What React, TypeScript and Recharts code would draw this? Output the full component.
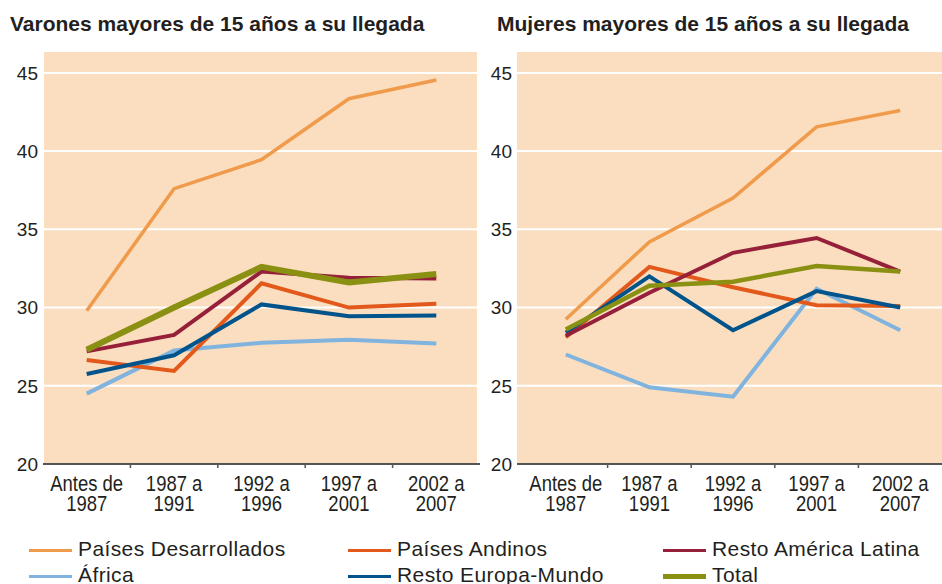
import { LineChart, Line, XAxis, YAxis, CartesianGrid } from 'recharts';

const periods = ['Antes de 1987', '1987 a 1991', '1992 a 1996', '1997 a 2001', '2002 a 2007'];
const yTicks = [20, 25, 30, 35, 40, 45];

// Varones
const varDesarrollados = [29.8, 37.6, 39.45, 43.35, 44.55];
const varAndinos = [26.65, 25.95, 31.55, 30.0, 30.25];
const varAmericaLatina = [27.2, 28.25, 32.3, 31.9, 31.85];
const varAfrica = [24.5, 27.25, 27.75, 27.95, 27.7];
const varEuropaMundo = [25.75, 26.95, 30.2, 29.45, 29.5];
const varTotal = [27.3, 30.0, 32.6, 31.6, 32.15];

// Mujeres
const mujDesarrollados = [29.25, 34.2, 37.0, 41.55, 42.6];
const mujAndinos = [28.1, 32.6, 31.3, 30.15, 30.1];
const mujAmericaLatina = [28.2, 30.95, 33.5, 34.45, 32.3];
const mujAfrica = [27.0, 24.9, 24.3, 31.2, 28.55];
const mujEuropaMundo = [28.4, 32.0, 28.55, 31.05, 30.0];
const mujTotal = [28.6, 31.4, 31.65, 32.65, 32.3];

const series = [
  { key: 'desarrollados', name: 'Países Desarrollados', color: '#F09B4B', width: 3.5 },
  { key: 'africa', name: 'África', color: '#80B3DE', width: 4 },
  { key: 'andinos', name: 'Países Andinos', color: '#E2591B', width: 4 },
  { key: 'europa', name: 'Resto Europa-Mundo', color: '#00548B', width: 4 },
  { key: 'latina', name: 'Resto América Latina', color: '#962039', width: 4 },
  { key: 'total', name: 'Total', color: '#8A9011', width: 4 },
];

const legendOrder = ['desarrollados', 'andinos', 'latina', 'africa', 'europa', 'total'];

const toRows = (d: number[], an: number[], al: number[], af: number[], eu: number[], t: number[]) =>
  periods.map((p, i) => ({
    period: p,
    desarrollados: d[i],
    andinos: an[i],
    latina: al[i],
    africa: af[i],
    europa: eu[i],
    total: t[i],
  }));

const varonesData = toRows(varDesarrollados, varAndinos, varAmericaLatina, varAfrica, varEuropaMundo, varTotal);
const mujeresData = toRows(mujDesarrollados, mujAndinos, mujAmericaLatina, mujAfrica, mujEuropaMundo, mujTotal);

const BG = '#FADEBF';
const SANS = '"Liberation Sans", Arial, sans-serif';

// condensed look for the period labels: Liberation Sans squeezed horizontally
function PeriodTick(props: any) {
  const { x, y, payload, index, band } = props;
  const text: string = payload.value;
  const cut = text.lastIndexOf(' ');
  const l1 = text.slice(0, cut);
  const l2 = text.slice(cut + 1);
  return (
    <g>
      {index > 0 && (
        <line x1={x - band / 2} x2={x - band / 2} y1={y} y2={y + 4} stroke="#555" strokeWidth={1.5} />
      )}
      <g transform={`translate(${x},${y}) scale(0.84,1)`}>
        <text x={0} y={27} textAnchor="middle" fontFamily={SANS} fontSize={22} fill="#231f20">
          {l1}
        </text>
        <text x={0} y={47} textAnchor="middle" fontFamily={SANS} fontSize={22} fill="#231f20">
          {l2}
        </text>
      </g>
    </g>
  );
}

interface PanelProps {
  data: any[];
  left: number;
  width: number;
  yAxisWidth: number;
  padLeft: number;
  totalWidth: number;
}

function Panel({ data, left, width, yAxisWidth, padLeft, totalWidth }: PanelProps) {
  const band = (width - yAxisWidth - padLeft) / periods.length;
  return (
    <div style={{ position: 'absolute', left, top: 0 }}>
      <LineChart width={width} height={520} data={data} margin={{ top: 51, right: 0, bottom: 0, left: 0 }}>
        <CartesianGrid horizontal vertical={false} stroke="#ffffff" strokeWidth={2} />
        <XAxis
          dataKey="period"
          scale="band"
          height={56}
          padding={{ left: padLeft, right: 0 }}
          axisLine={{ stroke: '#555', strokeWidth: 2 }}
          tickLine={false}
          tickSize={0}
          tickMargin={0}
          interval={0}
          tick={<PeriodTick band={band} />}
        />
        <YAxis
          type="number"
          domain={[20, 46.4]}
          ticks={yTicks}
          width={yAxisWidth}
          axisLine={false}
          tickLine={false}
          tickSize={0}
          tickMargin={5}
          tick={{ fontFamily: SANS, fontSize: 19, fill: '#231f20' }}
        />
        {series.map((s) => (
          <Line
            key={s.key}
            type="linear"
            dataKey={s.key}
            stroke={s.color}
            strokeWidth={s.key === 'total' ? totalWidth : s.width}
            dot={false}
            activeDot={false}
            isAnimationActive={false}
          />
        ))}
      </LineChart>
    </div>
  );
}

export default function App() {
  return (
    <div
      style={{
        position: 'absolute',
        left: 0,
        top: 0,
        width: 942,
        height: 584,
        background: '#ffffff',
        overflow: 'hidden',
        fontFamily: SANS,
      }}
    >
      <div style={{ position: 'absolute', left: 44, top: 51, width: 433, height: 413, background: BG }} />
      <div style={{ position: 'absolute', left: 517, top: 51, width: 425, height: 413, background: BG }} />
      <div style={{ position: 'absolute', left: 10, top: 12, fontSize: 21, fontWeight: 700, color: '#231f20', whiteSpace: 'nowrap' }}>
        Varones mayores de 15 años a su llegada
      </div>
      <div style={{ position: 'absolute', left: 497, top: 12, fontSize: 21, fontWeight: 700, color: '#231f20', whiteSpace: 'nowrap' }}>
        Mujeres mayores de 15 años a su llegada
      </div>
      <Panel data={varonesData} left={0} width={480} yAxisWidth={43} padLeft={0} totalWidth={6} />
      <Panel data={mujeresData} left={470} width={472} yAxisWidth={47} padLeft={7} totalWidth={4.5} />
      {legendOrder.map((k, i) => {
        const s = series.find((x) => x.key === k)!;
        const col = i % 3;
        const row = Math.floor(i / 3);
        const lx = [29, 348, 663][col];
        const ly = [550, 576][row];
        return (
          <div key={k}>
            <div
              style={{
                position: 'absolute',
                left: lx,
                top: ly - (k === 'total' ? 2.5 : 1.5),
                width: 43,
                height: k === 'total' ? 5 : 3,
                background: s.color,
              }}
            />
            <div
              style={{
                position: 'absolute',
                left: lx + 49,
                top: ly - 13,
                fontSize: 21,
                letterSpacing: 0.4,
                lineHeight: '24px',
                color: '#231f20',
                whiteSpace: 'nowrap',
              }}
            >
              {s.name}
            </div>
          </div>
        );
      })}
    </div>
  );
}
